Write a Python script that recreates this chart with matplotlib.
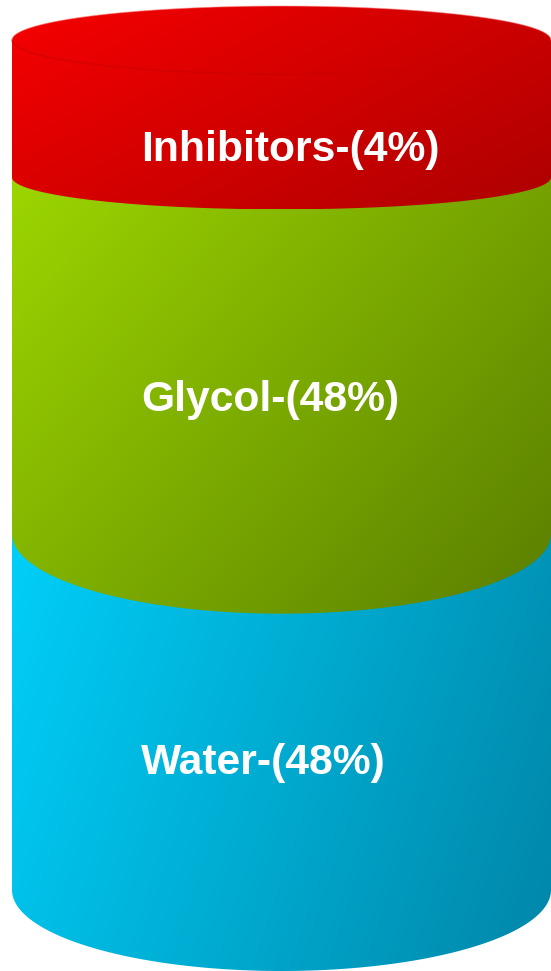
import numpy as np
import matplotlib
matplotlib.use("Agg")
import matplotlib.pyplot as plt
from matplotlib.path import Path
from matplotlib.patches import PathPatch
from matplotlib.colors import to_rgb

# ---- data ----
categories = ["Water", "Glycol", "Inhibitors"]   # bottom to top
shares = [48, 48, 4]
colors_light = ["#00cff9", "#9cd600", "#f70000"]
colors_dark = ["#0086a8", "#5a7e00", "#ad0000"]

# ---- layout (pixels) ----
W, H = 551, 971
fig = plt.figure(figsize=(W / 100, H / 100), dpi=100)
ax = fig.add_axes([0, 0, 1, 1])
ax.set_xlim(0, W)
ax.set_ylim(H, 0)
ax.axis("off")

x0, x1 = 12, 551
cx, a = (x0 + x1) / 2, (x1 - x0) / 2
top_y = 40
bottom_y = 890
min_share = 18.5        # minimum displayed height (in % units) so thin layers stay visible
disp = [max(s, min_share) for s in shares]
px_per = (bottom_y - top_y) / sum(disp)
bottom_b = [81, 80, 32]  # half-height of lower ellipse of each layer
top_b = 34
label_offset = [51, 44, 41]

# boundaries from bottom
bounds = []
yb = bottom_y
for d in disp:
    yt = yb - d * px_per
    bounds.append((yt, yb))
    yb = yt


def gradient(ax, patch, c1, c2, bbox, angle_deg):
    xa, xb, ya, yb_ = bbox
    n = 300
    u = np.linspace(0, 1, n)
    v = np.linspace(0, 1, n)
    U, V = np.meshgrid(u, v)
    ang = np.deg2rad(angle_deg)
    t = U * np.cos(ang) + V * np.sin(ang)
    t = (t - t.min()) / (t.max() - t.min())
    c1 = np.array(to_rgb(c1)); c2 = np.array(to_rgb(c2))
    img = c1[None, None, :] + (c2 - c1)[None, None, :] * t[..., None]
    im = ax.imshow(img, extent=(xa, xb, yb_, ya), origin="upper",
                   interpolation="bilinear", zorder=patch.get_zorder())
    im.set_clip_path(patch)


theta_low = np.linspace(np.pi, 0, 200)   # lower half: from left to right
for i, (cat, sh) in enumerate(zip(categories, shares)):
    yt, yb = bounds[i]
    bb = bottom_b[i]
    verts = [(x0, yt), (x0, yb)]
    verts += [(cx + a * np.cos(th), yb + bb * np.sin(th)) for th in theta_low]
    verts += [(x1, yb), (x1, yt)]
    ytop_ext = yt
    if i == len(categories) - 1:
        th_up = np.linspace(0, np.pi, 200)
        verts += [(cx + a * np.cos(th), yt - top_b * np.sin(th)) for th in th_up]
        ytop_ext = yt - top_b
    verts.append((x0, yt))
    codes = [Path.MOVETO] + [Path.LINETO] * (len(verts) - 2) + [Path.CLOSEPOLY]
    patch = PathPatch(Path(verts, codes), facecolor="none", edgecolor="none", zorder=1 + i)
    ax.add_patch(patch)
    angle = 15 if i == 0 else 35
    gradient(ax, patch, colors_light[i], colors_dark[i], (x0, x1, ytop_ext, yb + bb), angle)

    # label
    ymid = (yt + yb) / 2 + label_offset[i]
    ax.text(141, ymid, f"{cat}-({sh}%)", color="white", fontsize=30.7,
            fontweight="bold", family=["Liberation Sans", "DejaVu Sans"],
            ha="left", va="center", zorder=10)

# subtle rim of top face
yt_top = bounds[-1][0]
th = np.linspace(np.pi, 0, 200)
ax.plot(cx + a * np.cos(th), yt_top + top_b * np.sin(th), color="#c80000", lw=1, alpha=0.6, zorder=5)
th2 = np.linspace(0, np.pi, 200)
ax.plot(cx + a * np.cos(th2), yt_top - top_b * np.sin(th2), color="#ff9090", lw=0.8, alpha=0.5, zorder=5)

fig.savefig("out.png", dpi=100)
